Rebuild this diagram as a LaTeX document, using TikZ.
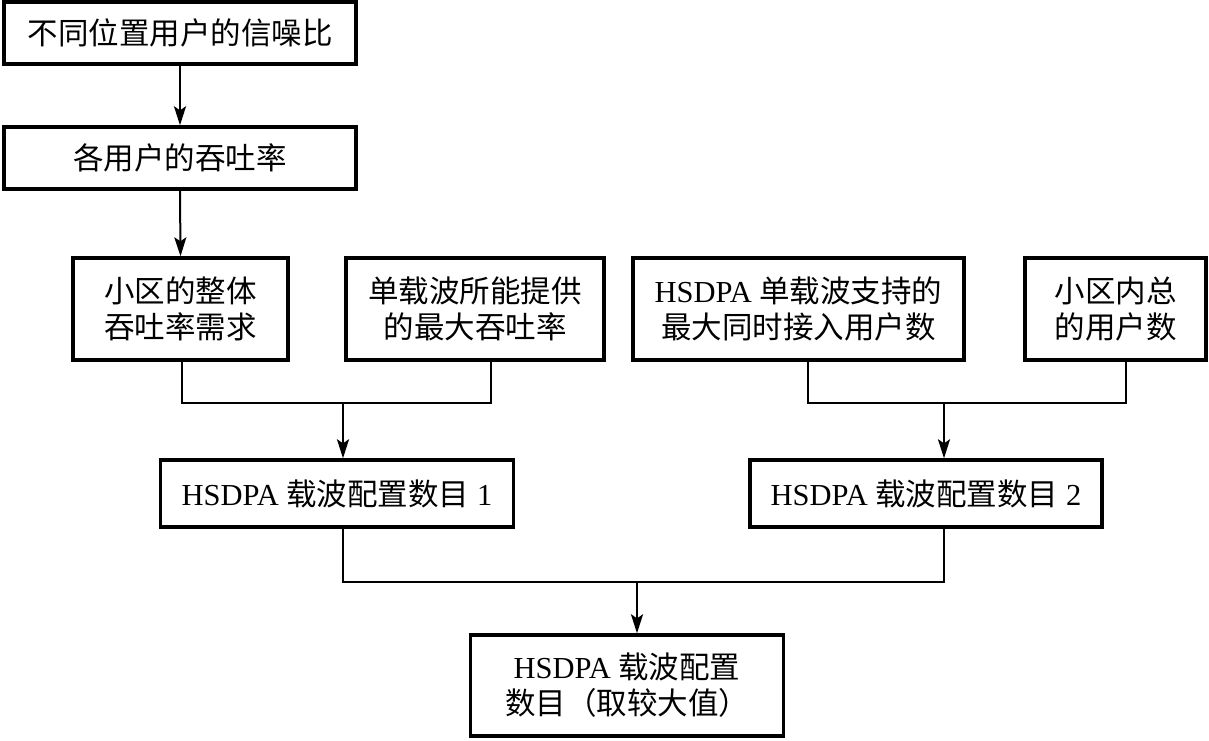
\documentclass[tikz,border=0pt]{standalone}
\usepackage{fontspec}
\setmainfont{Liberation Serif}
\newfontfamily\cjk{Noto Sans CJK SC}
\usetikzlibrary{arrows.meta}
\begin{document}
\begin{tikzpicture}[x=1pt,y=-1pt,
  box/.style={draw,line width=3.4pt,align=center,inner sep=0pt,font=\fontsize{30.5}{36}\selectfont},
  conn/.style={line width=2pt},
  arr/.style={line width=2pt,-{Stealth[length=19pt,width=12pt,inset=4pt]}}]
\useasboundingbox (0,0) rectangle (1209,740);
\node[box,minimum width=352pt,minimum height=62pt] (b1) at (180,33) {\cjk 不同位置用户的信噪比};
\node[box,minimum width=352pt,minimum height=62pt] (b2) at (180,158) {\cjk 各用户的吞吐率};
\node[box,minimum width=215pt,minimum height=102pt] (b3) at (180.5,309) {\cjk 小区的整体\\\cjk 吞吐率需求};
\node[box,minimum width=258pt,minimum height=102pt] (b4) at (475,309) {\cjk 单载波所能提供\\\cjk 的最大吞吐率};
\node[box,minimum width=331pt,minimum height=102pt] (b5) at (798.5,309) {HSDPA {\cjk 单载波支持的}\\\cjk 最大同时接入用户数};
\node[box,minimum width=181pt,minimum height=102pt] (b6) at (1115.5,309) {\cjk 小区内总\\\cjk 的用户数};
\node[box,minimum width=353pt,minimum height=67pt] (b7) at (337,493.5) {HSDPA {\cjk 载波配置数目} 1};
\node[box,minimum width=352pt,minimum height=67pt] (b8) at (926,493.5) {HSDPA {\cjk 载波配置数目} 2};
\node[box,minimum width=313pt,minimum height=101pt] (b9) at (627,685.5) {HSDPA {\cjk 载波配置}\\{\cjk 数目（取较大值）}};
\coordinate (m1) at (343,403);
\coordinate (m2) at (944,403);
\coordinate (m3) at (637,582);
\draw[arr] (b1.south) -- (b2.north);
\draw[arr] (b2.south) -- (b3.north);
\draw[conn] ([xshift=1.5pt]b3.south) |- (m1);
\draw[conn] ([xshift=16pt]b4.south) |- (m1);
\draw[arr] (m1) -- (m1 |- b7.north);
\draw[conn] ([xshift=9.5pt]b5.south) |- (m2);
\draw[conn] ([xshift=10.5pt]b6.south) |- (m2);
\draw[arr] (m2) -- (m2 |- b8.north);
\draw[conn] ([xshift=6pt]b7.south) |- (m3);
\draw[conn] ([xshift=18pt]b8.south) |- (m3);
\draw[arr] (m3) -- (m3 |- b9.north);
\end{tikzpicture}
\end{document}
